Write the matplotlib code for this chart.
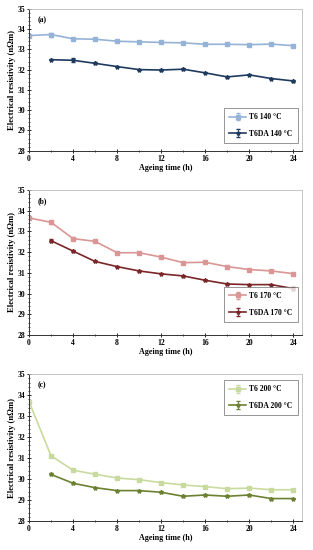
import matplotlib
matplotlib.use("Agg")
import matplotlib.pyplot as plt
from matplotlib.ticker import MultipleLocator

plt.rcParams['font.family'] = ['Liberation Serif', 'DejaVu Serif']
plt.rcParams['font.weight'] = 'bold'

time_t6 = [0, 2, 4, 6, 8, 10, 12, 14, 16, 18, 20, 22, 24]
time_da = [2, 4, 6, 8, 10, 12, 14, 16, 18, 20, 22, 24]

t6_140 = [33.68, 33.73, 33.52, 33.50, 33.40, 33.37, 33.34, 33.32, 33.25, 33.25, 33.23, 33.26, 33.18]
da_140 = [32.49, 32.46, 32.31, 32.15, 32.00, 31.98, 32.02, 31.84, 31.64, 31.74, 31.56, 31.44]
t6_140_err = [0.03, 0.10, 0.04, 0.03, 0.03, 0.03, 0.03, 0.03, 0.03, 0.03, 0.03, 0.03, 0.03]
da_140_err = [0.03, 0.10, 0.05, 0.04, 0.03, 0.03, 0.04, 0.03, 0.03, 0.03, 0.04, 0.03]

t6_170 = [33.65, 33.44, 32.65, 32.52, 31.97, 31.97, 31.76, 31.49, 31.51, 31.30, 31.16, 31.09, 30.96]
da_170 = [32.55, 32.05, 31.55, 31.30, 31.09, 30.95, 30.85, 30.64, 30.46, 30.43, 30.43, 30.24]
t6_170_err = [0.03, 0.06, 0.06, 0.04, 0.04, 0.04, 0.04, 0.05, 0.04, 0.03, 0.03, 0.03, 0.05]
da_170_err = [0.08, 0.03, 0.03, 0.03, 0.03, 0.03, 0.03, 0.03, 0.03, 0.03, 0.03, 0.06]

t6_200 = [33.69, 31.11, 30.42, 30.23, 30.05, 29.97, 29.83, 29.72, 29.64, 29.54, 29.57, 29.49, 29.49]
da_200 = [30.22, 29.80, 29.59, 29.45, 29.45, 29.37, 29.18, 29.24, 29.18, 29.24, 29.07, 29.07]
t6_200_err = [0.10, 0.05, 0.03, 0.03, 0.03, 0.03, 0.03, 0.03, 0.03, 0.03, 0.03, 0.03, 0.03]
da_200_err = [0.05, 0.04, 0.04, 0.04, 0.04, 0.04, 0.04, 0.06, 0.04, 0.05, 0.05, 0.04]

panels = [
    ("(a)", t6_140, da_140, t6_140_err, da_140_err, "T6 140 °C", "T6DA 140 °C", "#95B3D7", "#1F3A5F",
     [0.0927, 0.726, 0.871, 0.258], 'lower right', (0.986, 0.054)),
    ("(b)", t6_170, da_170, t6_170_err, da_170_err, "T6 170 °C", "T6DA 170 °C", "#D99694", "#7A2628",
     [0.0927, 0.391, 0.871, 0.2636], 'lower right', (0.986, 0.09)),
    ("(c)", t6_200, da_200, t6_200_err, da_200_err, "T6 200 °C", "T6DA 200 °C", "#C9DA9E", "#6B8132",
     [0.0927, 0.0527, 0.871, 0.267], 'upper right', (0.986, 0.96)),
]

fig = plt.figure(figsize=(3.13, 5.5), dpi=100)
fs = 5.5
for label, y1, y2, e1, e2, l1, l2, c1, c2, pos, legloc, legpos in panels:
    ax = fig.add_axes(pos)
    ax.errorbar(time_t6, y1, yerr=e1, color=c1, marker='s', ms=2.2, lw=1.2,
                capsize=1.5, elinewidth=0.6, label=l1)
    ax.errorbar(time_da, y2, yerr=e2, color=c2, marker='*', ms=3, lw=1.2,
                capsize=1.5, elinewidth=0.6, label=l2)
    ax.set_xlim(0, 24.76)
    ax.set_ylim(28, 35)
    ax.set_xticks([0, 4, 8, 12, 16, 20, 24])
    ax.xaxis.set_minor_locator(MultipleLocator(2))
    ax.yaxis.set_major_locator(MultipleLocator(1))
    ax.yaxis.set_minor_locator(MultipleLocator(0.2))
    ax.tick_params(axis='both', which='major', labelsize=fs, length=2.5, width=0.6, direction='inout', pad=1.5)
    ax.tick_params(axis='both', which='minor', length=1.5, width=0.5, direction='inout')
    for s in ['left', 'bottom']:
        ax.spines[s].set_color('#333333')
        ax.spines[s].set_linewidth(0.7)
    for s in ['top', 'right']:
        ax.spines[s].set_color('#BBBBBB')
        ax.spines[s].set_linewidth(0.6)
    ax.set_xlabel("Ageing time (h)", fontsize=fs + 0.3, fontweight='bold', labelpad=1)
    ax.set_ylabel("Electrical resistivity (nΩm)", fontsize=fs + 0.7, fontweight='bold', labelpad=1)
    ax.text(0.03, 0.95, label, transform=ax.transAxes, fontsize=fs, fontweight='bold', va='top')
    leg = ax.legend(loc=legloc, bbox_to_anchor=legpos, fontsize=fs, frameon=True,
                    fancybox=False, edgecolor='#666666', handlelength=2.2, handletextpad=0.4,
                    labelspacing=1.1, borderpad=0.7, borderaxespad=0)
    leg.get_frame().set_linewidth(0.6)

fig.savefig("out.png", dpi=100)
